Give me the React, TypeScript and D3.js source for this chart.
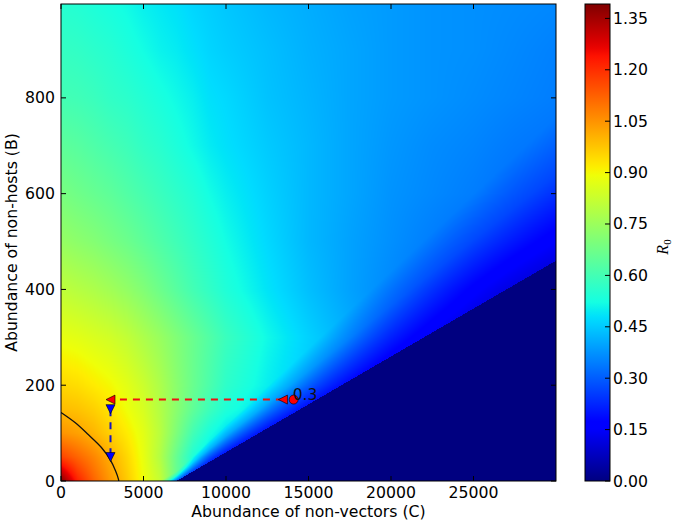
import * as d3 from "d3";
import React, { useEffect, useState } from "react";

// grid: C (non-vectors) columns, B (non-hosts) rows
const cGrid = [0, 1000, 2000, 3000, 4000, 5000, 6000, 7000, 8000, 9000, 10000, 12500, 15000, 17500, 20000, 22500, 25000, 27500, 30000];
const bGrid = [0, 50, 100, 150, 200, 300, 400, 500, 600, 700, 800, 900, 1000];
const r0Grid = [
  [1.39, 1.22, 1.12, 1.04, 0.97, 0.89, 0.82, 0.66, 0.56, 0.5, 0.46, 0.4, 0.36, 0.33, 0.3, 0.28, 0.26, 0.24, 0.23],
  [1.17, 1.12, 1.07, 1.01, 0.95, 0.88, 0.79, 0.66, 0.54, 0.47, 0.43, 0.38, 0.35, 0.32, 0.3, 0.28, 0.26, 0.24, 0.23],
  [1.05, 1.03, 1.0, 0.96, 0.92, 0.87, 0.8, 0.7, 0.6, 0.53, 0.48, 0.42, 0.38, 0.34, 0.31, 0.29, 0.27, 0.25, 0.23],
  [0.99, 0.98, 0.96, 0.93, 0.89, 0.85, 0.79, 0.72, 0.65, 0.59, 0.54, 0.47, 0.42, 0.37, 0.33, 0.3, 0.28, 0.26, 0.24],
  [0.95, 0.94, 0.92, 0.9, 0.87, 0.83, 0.78, 0.72, 0.665, 0.615, 0.565, 0.5, 0.45, 0.4, 0.35, 0.31, 0.28, 0.26, 0.24],
  [0.88, 0.87, 0.855, 0.84, 0.815, 0.78, 0.745, 0.705, 0.665, 0.625, 0.585, 0.515, 0.46, 0.41, 0.36, 0.32, 0.29, 0.26, 0.24],
  [0.81, 0.795, 0.78, 0.76, 0.735, 0.705, 0.67, 0.635, 0.6, 0.57, 0.54, 0.485, 0.435, 0.395, 0.36, 0.325, 0.29, 0.26, 0.24],
  [0.74, 0.725, 0.71, 0.69, 0.67, 0.645, 0.62, 0.595, 0.57, 0.545, 0.52, 0.47, 0.425, 0.395, 0.37, 0.345, 0.32, 0.3, 0.28],
  [0.69, 0.675, 0.66, 0.645, 0.625, 0.605, 0.585, 0.565, 0.545, 0.52, 0.5, 0.46, 0.425, 0.4, 0.375, 0.36, 0.345, 0.325, 0.31],
  [0.645, 0.635, 0.62, 0.605, 0.59, 0.57, 0.555, 0.535, 0.515, 0.495, 0.48, 0.45, 0.425, 0.4, 0.38, 0.365, 0.355, 0.34, 0.33],
  [0.6, 0.595, 0.585, 0.57, 0.56, 0.545, 0.53, 0.515, 0.5, 0.48, 0.47, 0.44, 0.42, 0.4, 0.385, 0.375, 0.365, 0.355, 0.345],
  [0.575, 0.57, 0.56, 0.55, 0.535, 0.52, 0.505, 0.495, 0.48, 0.465, 0.455, 0.435, 0.415, 0.4, 0.385, 0.375, 0.37, 0.36, 0.35],
  [0.55, 0.545, 0.535, 0.525, 0.515, 0.5, 0.49, 0.48, 0.465, 0.455, 0.445, 0.425, 0.41, 0.395, 0.385, 0.375, 0.37, 0.365, 0.36],
];

// edge of the R0 = 0 region and how R0 falls just above it
const boundaryC = [7000, 30000];
const boundaryB = [0, 460];
const edgeWidthC = [7000, 30000];
const edgeWidthB = [20, 300];
const edgeU = [0, 0.25, 0.6, 1];
const edgeF = [0.46, 0.62, 0.85, 1];

// R0 = 1 contour
const contourC = [0, 850, 1650, 2450, 2970, 3310, 3480, 3500];
const contourB = [143, 122, 97, 70, 45, 21, 4, 0];

const redPathC = [13450, 3000];
const redPathB = [170, 170];
const bluePathC = [3000, 3000];
const bluePathB = [150, 50];
const pointC = 14100;
const pointB = 170;
const pointLabel = "0.3";

const xTicks = [0, 5000, 10000, 15000, 20000, 25000];
const yTicks = [0, 200, 400, 600, 800];
const cbTicks = [0, 0.15, 0.3, 0.45, 0.6, 0.75, 0.9, 1.05, 1.2, 1.35];
const vMax = 1.392;

const W = 676;
const H = 525;
const left = 61, right = 556, top = 4, bottom = 481;
const cbLeft = 585, cbRight = 610;
const font = "DejaVu Sans, sans-serif";
const fs = 15.7;

const x = d3.scaleLinear().domain([0, 30000]).range([left, right]);
const y = d3.scaleLinear().domain([0, 996]).range([bottom, top]);
const cb = d3.scaleLinear().domain([0, vMax]).range([bottom, top]);

const jetR = d3.scaleLinear([0, 0.35, 0.66, 0.89, 1], [0, 0, 1, 1, 0.5]).clamp(true);
const jetG = d3.scaleLinear([0, 0.125, 0.375, 0.64, 0.91, 1], [0, 0, 1, 1, 0, 0]).clamp(true);
const jetB = d3.scaleLinear([0, 0.11, 0.34, 0.65, 1], [0.5, 1, 1, 0, 0]).clamp(true);
const jet = (t) => [jetR(t) * 255, jetG(t) * 255, jetB(t) * 255];

const boundary = d3.scaleLinear().domain(boundaryC).range(boundaryB);
const edgeWidth = d3.scaleLinear().domain(edgeWidthC).range(edgeWidthB).clamp(true);
const edge = d3.scaleLinear().domain(edgeU).range(edgeF).clamp(true);

function r0At(c, b) {
  const d = b - boundary(c);
  if (d < 0) return 0;
  const i = Math.max(0, Math.min(cGrid.length - 2, d3.bisectRight(cGrid, c) - 1));
  const j = Math.max(0, Math.min(bGrid.length - 2, d3.bisectRight(bGrid, b) - 1));
  const tx = Math.max(0, Math.min(1, (c - cGrid[i]) / (cGrid[i + 1] - cGrid[i])));
  const ty = Math.max(0, Math.min(1, (b - bGrid[j]) / (bGrid[j + 1] - bGrid[j])));
  const v0 = r0Grid[j][i] * (1 - tx) + r0Grid[j][i + 1] * tx;
  const v1 = r0Grid[j + 1][i] * (1 - tx) + r0Grid[j + 1][i + 1] * tx;
  return (v0 * (1 - ty) + v1 * ty) * edge(d / edgeWidth(c));
}

const triLeft = (r) => `M${-r},0L${r},${-r}L${r},${r}Z`;
const triDown = (r) => `M0,${r}L${-r},${-r}L${r},${-r}Z`;

export default function App() {
  const [href, setHref] = useState("");

  useEffect(() => {
    const pw = right - left;
    const ph = bottom - top;
    const canvas = document.createElement("canvas");
    canvas.width = pw;
    canvas.height = ph;
    const ctx = canvas.getContext("2d");
    const img = ctx.createImageData(pw, ph);
    for (let j = 0; j < ph; j++) {
      const b = y.invert(top + j + 0.5);
      for (let i = 0; i < pw; i++) {
        const c = x.invert(left + i + 0.5);
        const [r, g, bl] = jet(r0At(c, b) / vMax);
        const k = (j * pw + i) * 4;
        img.data[k] = r;
        img.data[k + 1] = g;
        img.data[k + 2] = bl;
        img.data[k + 3] = 255;
      }
    }
    ctx.putImageData(img, 0, 0);
    setHref(canvas.toDataURL());
  }, []);

  const line = d3.line().x((d) => x(d[0])).y((d) => y(d[1]));
  const contour = d3.line().curve(d3.curveCatmullRom).x((d) => x(d[0])).y((d) => y(d[1]));
  const stops = d3.range(0, 1.0001, 1 / 64);

  return (
    <svg width={W} height={H} style={{ position: "absolute", left: 0, top: 0, background: "#fff" }} fontFamily={font}>
      <defs>
        <linearGradient id="jet" x1="0" y1="1" x2="0" y2="0">
          {stops.map((t) => (
            <stop key={t} offset={t} stopColor={d3.rgb(...jet(t)).formatHex()} />
          ))}
        </linearGradient>
        <clipPath id="plot">
          <rect x={left} y={top} width={right - left} height={bottom - top} />
        </clipPath>
      </defs>
      <rect width={W} height={H} fill="#fff" />
      {href && <image x={left} y={top} width={right - left} height={bottom - top} href={href} preserveAspectRatio="none" />}

      <g clipPath="url(#plot)">
        <path d={contour(contourC.map((c, i) => [c, contourB[i]]))} fill="none" stroke="#111" strokeWidth={1.3} />
        <path d={line(redPathC.map((c, i) => [c, redPathB[i]]))} fill="none" stroke="#ee1111" strokeWidth={2} strokeDasharray="7,6" />
        <path d={line(bluePathC.map((c, i) => [c, bluePathB[i]]))} fill="none" stroke="#1515c0" strokeWidth={2} strokeDasharray="7,6" />
        {redPathC.map((c, i) => (
          <path key={"r" + i} d={triLeft(4.5)} transform={`translate(${x(c)},${y(redPathB[i])})`} fill="#ff0000" stroke="#000" strokeWidth={0.6} />
        ))}
        {bluePathC.map((c, i) => (
          <path key={"b" + i} d={triDown(4.5)} transform={`translate(${x(c)},${y(bluePathB[i])})`} fill="#0000ff" stroke="#000" strokeWidth={0.6} />
        ))}
        <circle cx={x(pointC)} cy={y(pointB)} r={4.5} fill="#ff0000" stroke="#000" strokeWidth={0.6} />
        <text x={x(pointC) - 1} y={y(pointB)} fontSize={15.5} fill="#111">{pointLabel}</text>
      </g>

      {/* axes frame and ticks */}
      <rect x={left} y={top} width={right - left} height={bottom - top} fill="none" stroke="#000" strokeWidth={1} />
      {xTicks.map((t) => (
        <g key={"x" + t}>
          <line x1={x(t)} x2={x(t)} y1={bottom} y2={bottom - 5} stroke="#000" />
          <line x1={x(t)} x2={x(t)} y1={top} y2={top + 5} stroke="#000" />
          <text x={x(t)} y={bottom + 17} fontSize={fs} textAnchor="middle">{t}</text>
        </g>
      ))}
      {yTicks.map((t) => (
        <g key={"y" + t}>
          <line x1={left} x2={left + 5} y1={y(t)} y2={y(t)} stroke="#000" />
          <line x1={right} x2={right - 5} y1={y(t)} y2={y(t)} stroke="#000" />
          <text x={left - 6} y={y(t)} fontSize={fs} textAnchor="end" dominantBaseline="central">{t}</text>
        </g>
      ))}
      <text x={(left + right) / 2} y={517} fontSize={fs} textAnchor="middle">Abundance of non-vectors (C)</text>
      <text transform={`translate(17,${(top + bottom) / 2}) rotate(-90)`} fontSize={fs} textAnchor="middle">Abundance of non-hosts (B)</text>

      {/* colorbar */}
      <rect x={cbLeft} y={top} width={cbRight - cbLeft} height={bottom - top} fill="url(#jet)" stroke="#000" strokeWidth={1} />
      {cbTicks.map((t) => (
        <g key={"c" + t}>
          <line x1={cbRight} x2={cbRight - 5} y1={cb(t)} y2={cb(t)} stroke="#000" />
          <text x={cbRight + 3} y={cb(t)} fontSize={fs} dominantBaseline="central">{t.toFixed(2)}</text>
        </g>
      ))}
      <text transform={`translate(668,247) rotate(-90)`} fontSize={16} textAnchor="middle" fontFamily="Liberation Serif, serif">
        <tspan fontStyle="italic">R</tspan>
        <tspan fontSize={11} dy={3}>0</tspan>
      </text>
    </svg>
  );
}
